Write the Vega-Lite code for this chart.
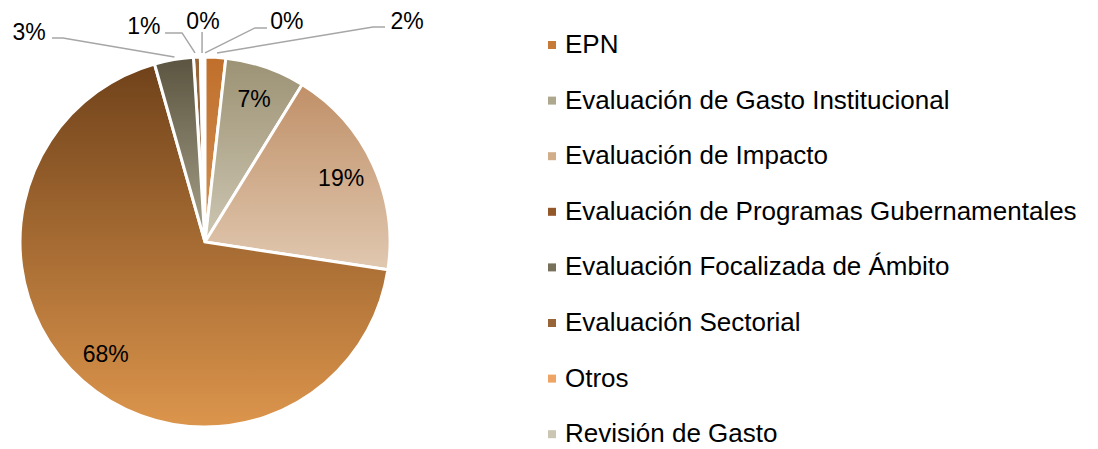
{
  "$schema": "https://vega.github.io/schema/vega-lite/v6.json",
  "width": 410,
  "height": 420,
  "autosize": {"type": "none"},
  "padding": {"left": 0, "top": 32, "right": 688, "bottom": 0},
  "background": "white",
  "config": {"view": {"stroke": null}},
  "datasets": {
    "slices": [
      {"idx": 1, "category": "EPN", "value": 0.018},
      {"idx": 2, "category": "Evaluación de Gasto Institucional", "value": 0.070},
      {"idx": 3, "category": "Evaluación de Impacto", "value": 0.186},
      {"idx": 4, "category": "Evaluación de Programas Gubernamentales", "value": 0.682},
      {"idx": 5, "category": "Evaluación Focalizada de Ámbito", "value": 0.034},
      {"idx": 6, "category": "Evaluación Sectorial", "value": 0.006},
      {"idx": 7, "category": "Otros", "value": 0.002},
      {"idx": 8, "category": "Revisión de Gasto", "value": 0.002}
    ],
    "callouts": [
      {"category": "Evaluación Focalizada de Ámbito", "x": -0.951, "y": 1.130},
      {"category": "Evaluación Sectorial", "x": -0.330, "y": 1.162},
      {"category": "Otros", "x": -0.011, "y": 1.189},
      {"category": "Revisión de Gasto", "x": 0.443, "y": 1.189},
      {"category": "EPN", "x": 1.092, "y": 1.189}
    ],
    "leaders": [
      {"category": "Evaluación Focalizada de Ámbito", "p": 1, "x": -0.827, "y": 1.103},
      {"category": "Evaluación Focalizada de Ámbito", "p": 2, "x": -0.768, "y": 1.103},
      {"category": "Evaluación Focalizada de Ámbito", "p": 3, "x": -0.165, "y": 1.0},
      {"category": "Evaluación Sectorial", "p": 1, "x": -0.216, "y": 1.130},
      {"category": "Evaluación Sectorial", "p": 2, "x": -0.124, "y": 1.130},
      {"category": "Evaluación Sectorial", "p": 3, "x": -0.054, "y": 1.022},
      {"category": "Otros", "p": 1, "x": -0.016, "y": 1.135},
      {"category": "Otros", "p": 2, "x": -0.016, "y": 1.022},
      {"category": "Revisión de Gasto", "p": 1, "x": 0.335, "y": 1.157},
      {"category": "Revisión de Gasto", "p": 2, "x": 0.270, "y": 1.157},
      {"category": "Revisión de Gasto", "p": 3, "x": 0.0, "y": 1.022},
      {"category": "EPN", "p": 1, "x": 0.973, "y": 1.162},
      {"category": "EPN", "p": 2, "x": 0.908, "y": 1.162},
      {"category": "EPN", "p": 3, "x": 0.065, "y": 1.022}
    ]
  },
  "layer": [
    {
      "data": {"name": "slices"},
      "mark": {"type": "arc", "outerRadius": 185, "stroke": "white", "strokeWidth": 3},
      "encoding": {
        "theta": {"field": "value", "type": "quantitative", "stack": true, "scale": {"domain": [0, 1]}},
        "order": {"field": "idx", "type": "quantitative"},
        "color": {
          "field": "category",
          "type": "nominal",
          "scale": {
            "domain": ["EPN", "Evaluación de Gasto Institucional", "Evaluación de Impacto", "Evaluación de Programas Gubernamentales", "Evaluación Focalizada de Ámbito", "Evaluación Sectorial", "Otros", "Revisión de Gasto"],
            "range": ["#c77a37", "#aea88e", "#d2ad8a", "#93582a", "#77705a", "#986539", "#eea464", "#cbc6b3"]
          },
          "legend": {
            "title": null,
            "orient": "right",
            "offset": 129,
            "padding": 0,
            "symbolType": "square",
            "symbolSize": 64,
            "symbolStrokeWidth": 0,
            "labelFont": "Liberation Sans",
            "labelFontSize": 26,
            "labelColor": "#000000",
            "labelOffset": 0,
            "labelLimit": 700,
            "rowPadding": 29.6
          }
        }
      }
    },
    {
      "data": {"name": "slices"},
      "transform": [{"stack": "value", "groupby": [], "sort": [{"field": "idx", "order": "ascending"}], "as": ["v0", "v1"]}, {"filter": "datum.idx == 1"}],
      "mark": {"type": "arc", "outerRadius": 185, "stroke": "white", "strokeWidth": 3, "color": {"gradient": "linear", "x1": 0, "y1": 0, "x2": 0, "y2": 1, "stops": [{"offset": 0, "color": "#c06f2b"}, {"offset": 1, "color": "#d39256"}]}},
      "encoding": {"theta": {"field": "v0", "type": "quantitative", "stack": null, "scale": {"domain": [0, 1]}}, "theta2": {"field": "v1"}}
    },
    {
      "data": {"name": "slices"},
      "transform": [{"stack": "value", "groupby": [], "sort": [{"field": "idx", "order": "ascending"}], "as": ["v0", "v1"]}, {"filter": "datum.idx == 2"}],
      "mark": {"type": "arc", "outerRadius": 185, "stroke": "white", "strokeWidth": 3, "color": {"gradient": "linear", "x1": 0, "y1": 0, "x2": 0, "y2": 1, "stops": [{"offset": 0, "color": "#9c9274"}, {"offset": 1, "color": "#cdc6b2"}]}},
      "encoding": {"theta": {"field": "v0", "type": "quantitative", "stack": null, "scale": {"domain": [0, 1]}}, "theta2": {"field": "v1"}}
    },
    {
      "data": {"name": "slices"},
      "transform": [{"stack": "value", "groupby": [], "sort": [{"field": "idx", "order": "ascending"}], "as": ["v0", "v1"]}, {"filter": "datum.idx == 3"}],
      "mark": {"type": "arc", "outerRadius": 185, "stroke": "white", "strokeWidth": 3, "color": {"gradient": "linear", "x1": 0, "y1": 0, "x2": 0, "y2": 1, "stops": [{"offset": 0, "color": "#c09068"}, {"offset": 1, "color": "#e0c8b0"}]}},
      "encoding": {"theta": {"field": "v0", "type": "quantitative", "stack": null, "scale": {"domain": [0, 1]}}, "theta2": {"field": "v1"}}
    },
    {
      "data": {"name": "slices"},
      "transform": [{"stack": "value", "groupby": [], "sort": [{"field": "idx", "order": "ascending"}], "as": ["v0", "v1"]}, {"filter": "datum.idx == 4"}],
      "mark": {"type": "arc", "outerRadius": 185, "stroke": "white", "strokeWidth": 3, "color": {"gradient": "linear", "x1": 0, "y1": 0, "x2": 0, "y2": 1, "stops": [{"offset": 0, "color": "#70421a"}, {"offset": 1, "color": "#dc954c"}]}},
      "encoding": {"theta": {"field": "v0", "type": "quantitative", "stack": null, "scale": {"domain": [0, 1]}}, "theta2": {"field": "v1"}}
    },
    {
      "data": {"name": "slices"},
      "transform": [{"stack": "value", "groupby": [], "sort": [{"field": "idx", "order": "ascending"}], "as": ["v0", "v1"]}, {"filter": "datum.idx == 5"}],
      "mark": {"type": "arc", "outerRadius": 185, "stroke": "white", "strokeWidth": 3, "color": {"gradient": "linear", "x1": 0, "y1": 0, "x2": 0, "y2": 1, "stops": [{"offset": 0, "color": "#5b5440"}, {"offset": 1, "color": "#a8a28a"}]}},
      "encoding": {"theta": {"field": "v0", "type": "quantitative", "stack": null, "scale": {"domain": [0, 1]}}, "theta2": {"field": "v1"}}
    },
    {
      "data": {"name": "slices"},
      "mark": {"type": "text", "radius": 150, "font": "Liberation Sans", "fontSize": 23, "color": "#000000", "align": "center", "baseline": "middle"},
      "encoding": {
        "theta": {"field": "value", "type": "quantitative", "stack": true, "scale": {"domain": [0, 1]}},
        "order": {"field": "idx", "type": "quantitative"},
        "text": {"condition": {"test": "datum.value >= 0.05", "field": "value", "type": "quantitative", "format": ".0%"}, "value": ""}
      }
    },
    {
      "data": {"name": "leaders"},
      "mark": {"type": "line", "color": "#a6a6a6", "strokeWidth": 1.5},
      "encoding": {
        "x": {"field": "x", "type": "quantitative", "scale": {"domain": [-1.1081, 1.1081], "nice": false, "zero": false}, "axis": null},
        "y": {"field": "y", "type": "quantitative", "scale": {"domain": [-1.1351, 1.1351], "nice": false, "zero": false}, "axis": null},
        "detail": {"field": "category", "type": "nominal"},
        "order": {"field": "p", "type": "quantitative"}
      }
    },
    {
      "data": {"name": "callouts"},
      "transform": [
        {"lookup": "category", "from": {"data": {"name": "slices"}, "key": "category", "fields": ["value"]}}
      ],
      "mark": {"type": "text", "font": "Liberation Sans", "fontSize": 23, "color": "#000000", "align": "center", "baseline": "middle"},
      "encoding": {
        "x": {"field": "x", "type": "quantitative", "scale": {"domain": [-1.1081, 1.1081], "nice": false, "zero": false}, "axis": null},
        "y": {"field": "y", "type": "quantitative", "scale": {"domain": [-1.1351, 1.1351], "nice": false, "zero": false}, "axis": null},
        "text": {"field": "value", "type": "quantitative", "format": ".0%"}
      }
    }
  ]
}
